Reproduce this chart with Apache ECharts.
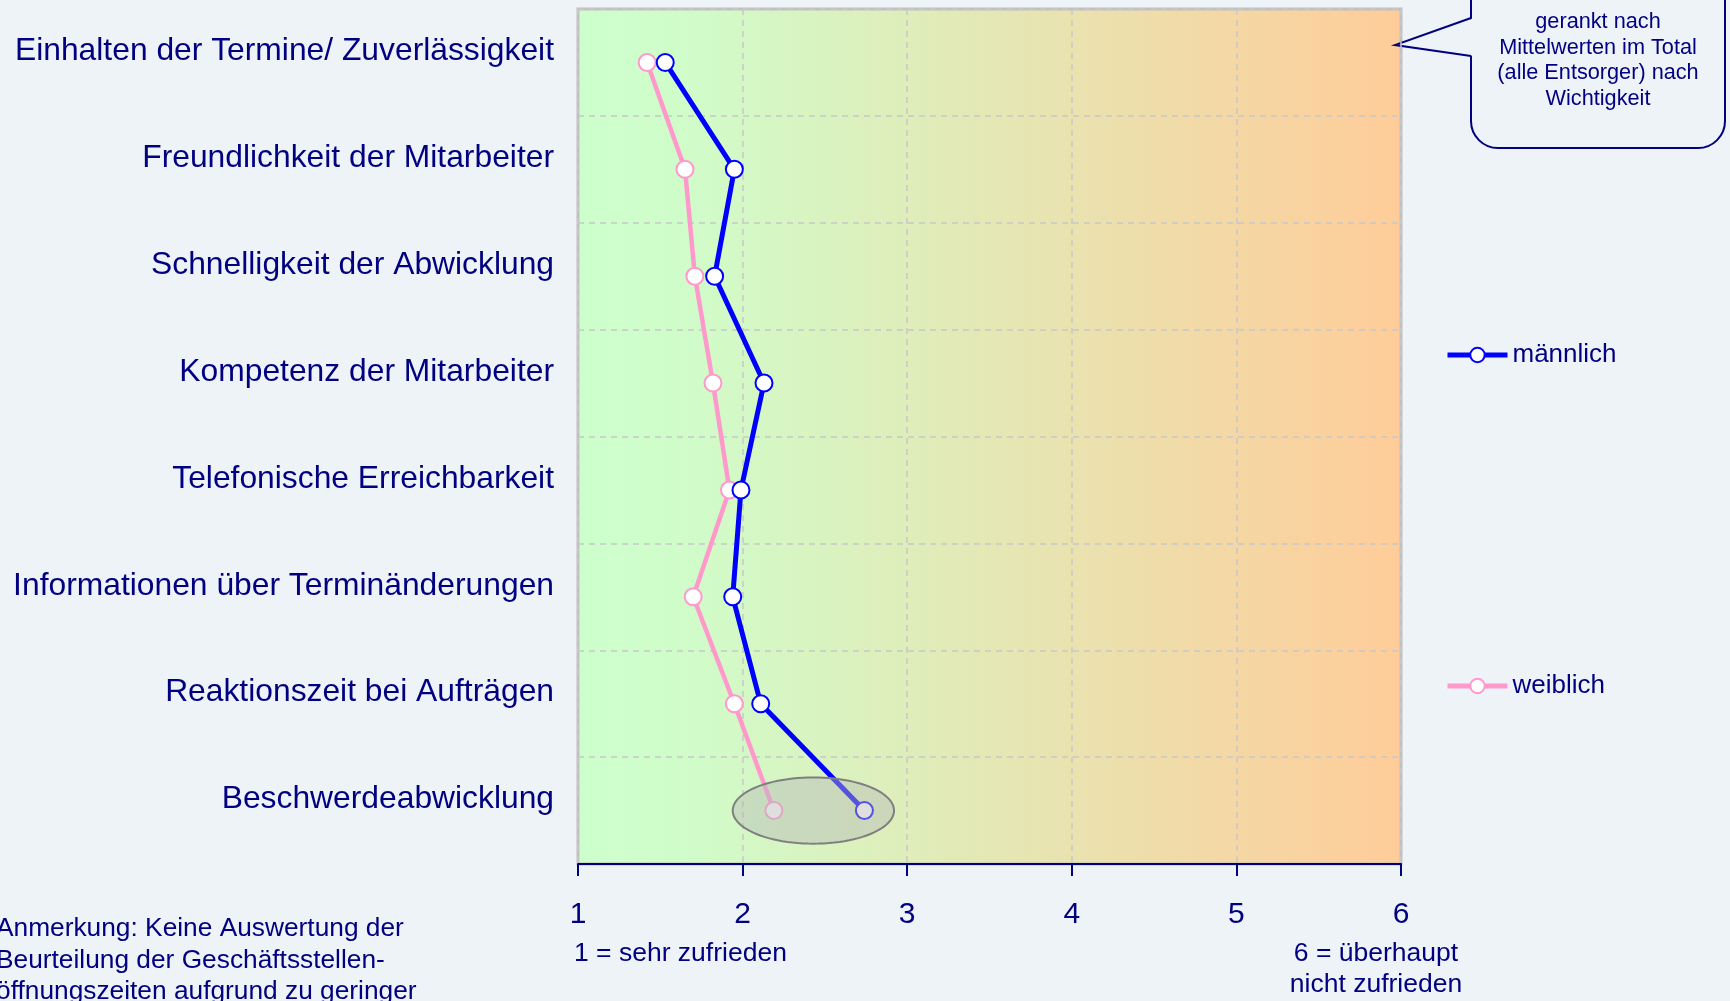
<!DOCTYPE html>
<html>
<head>
<meta charset="utf-8">
<script src="https://cdn.jsdelivr.net/npm/echarts@6/dist/echarts.min.js"></script>
<style>
  html, body { margin: 0; padding: 0; background: #EEF3F8; }
  #chart { width: 1730px; height: 1001px; }
</style>
</head>
<body>
<div id="chart"></div>
<script>
// Kriterien, gerankt nach Wichtigkeit (oben = am wichtigsten)
var categories = [
  "Einhalten der Termine/ Zuverlässigkeit",
  "Freundlichkeit der Mitarbeiter",
  "Schnelligkeit der Abwicklung",
  "Kompetenz der Mitarbeiter",
  "Telefonische Erreichbarkeit",
  "Informationen über Terminänderungen",
  "Reaktionszeit bei Aufträgen",
  "Beschwerdeabwicklung"
];
var maleValues = [1.53, 1.95, 1.83, 2.13, 1.99, 1.94, 2.11, 2.74];
var femaleValues = [1.42, 1.65, 1.71, 1.82, 1.92, 1.70, 1.95, 2.19];
var seriesNames = ["männlich", "weiblich"];
// markierte Stelle (Mittelpunkt der Ellipse) und halbe Breite in Skaleneinheiten
var highlightPoint = [2.43, "Beschwerdeabwicklung"];
var highlightHalfWidth = 0.49;

var navy = "#000080";
var bg = "#EEF3F8";
var font = "Liberation Sans, Arial, sans-serif";

var myChart = echarts.init(document.getElementById("chart"));

function legendAt(name, top) {
  return {
    data: [name],
    left: 1440,
    top: top,
    itemWidth: 60,
    itemHeight: 18,
    lineStyle: { width: 5 },
    itemStyle: { borderWidth: 2 },
    textStyle: { color: navy, fontSize: 26, fontFamily: font }
  };
}

var option = {
  backgroundColor: bg,
  animation: false,
  textStyle: { fontFamily: font },
  grid: {
    left: 578,
    right: 329,
    top: 9,
    bottom: 137,
    show: true,
    borderColor: "#C0C0C0",
    borderWidth: 3,
    backgroundColor: new echarts.graphic.LinearGradient(0, 0, 1, 0, [
      { offset: 0, color: "#CCFFCC" },
      { offset: 0.12, color: "#CFFDCA" },
      { offset: 1, color: "#FFCC99" }
    ])
  },
  legend: [legendAt(seriesNames[0], 337), legendAt(seriesNames[1], 668)],
  xAxis: {
    type: "value",
    min: 1,
    max: 6,
    interval: 1,
    axisLine: { show: true, lineStyle: { color: navy, width: 2 } },
    axisTick: { show: true, length: 12, lineStyle: { color: navy, width: 2 } },
    axisLabel: { color: navy, fontSize: 30, margin: 36, fontFamily: font },
    splitLine: { show: true, lineStyle: { color: "#C8C8C8", type: [6, 5], width: 1.5 } }
  },
  yAxis: {
    type: "category",
    data: categories,
    inverse: true,
    axisLine: { show: false },
    axisTick: { show: false },
    axisLabel: {
      color: navy,
      fontSize: 31.8,
      margin: 24,
      verticalAlign: "bottom",
      lineHeight: 22,
      fontFamily: font
    },
    splitLine: { show: true, interval: 0, lineStyle: { color: "#C8C8C8", type: [6, 5], width: 1.5 } }
  },
  series: [
    {
      name: seriesNames[0],
      type: "line",
      data: maleValues.map(function (v, i) { return [v, categories[i]]; }),
      symbol: "circle",
      symbolSize: 17,
      lineStyle: { color: "#0000FF", width: 5 },
      itemStyle: { color: "#FFFFFF", borderColor: "#0000FF", borderWidth: 2 },
      z: 3
    },
    {
      name: seriesNames[1],
      type: "line",
      data: femaleValues.map(function (v, i) { return [v, categories[i]]; }),
      symbol: "circle",
      symbolSize: 17,
      lineStyle: { color: "#FF99CC", width: 4.5 },
      itemStyle: { color: "#FFFFFF", borderColor: "#FF99CC", borderWidth: 2 },
      z: 2
    },
    {
      type: "custom",
      silent: true,
      z: 5,
      data: [highlightPoint],
      renderItem: function (params, api) {
        var c = api.coord([api.value(0), api.value(1)]);
        var rx = api.size([highlightHalfWidth, 0])[0];
        var ry = api.size([0, 1])[1] * 0.31;
        var pts = [];
        for (var k = 0; k < 96; k++) {
          var a = (k / 96) * Math.PI * 2;
          pts.push([c[0] + rx * Math.cos(a), c[1] + ry * Math.sin(a)]);
        }
        return {
          type: "polygon",
          shape: { points: pts },
          style: { fill: "rgba(185,185,185,0.45)", stroke: "#7F7F7F", lineWidth: 2 }
        };
      }
    }
  ],
  graphic: [
    {
      type: "rect",
      shape: { x: 1471, y: -40, width: 254, height: 188, r: 27 },
      style: { fill: bg, stroke: navy, lineWidth: 2 }
    },
    {
      type: "polygon",
      shape: { points: [[1474, 18], [1395, 45], [1474, 56]] },
      style: { fill: bg }
    },
    {
      type: "polyline",
      shape: { points: [[1471, 18], [1395, 45], [1471, 56]] },
      style: { fill: null, stroke: navy, lineWidth: 2 }
    },
    {
      type: "text",
      x: 1598,
      y: 9,
      style: {
        text: "gerankt nach\nMittelwerten im Total\n(alle Entsorger) nach\nWichtigkeit",
        fill: navy,
        font: "21.7px " + font,
        lineHeight: 25.7,
        align: "center",
        verticalAlign: "top"
      }
    },
    {
      type: "text",
      x: 574,
      y: 954,
      style: {
        text: "1 = sehr zufrieden",
        fill: navy,
        font: "26.5px " + font,
        align: "left",
        verticalAlign: "middle"
      }
    },
    {
      type: "text",
      x: 1376,
      y: 938,
      style: {
        text: "6 = überhaupt\nnicht zufrieden",
        fill: navy,
        font: "26.5px " + font,
        lineHeight: 31,
        align: "center",
        verticalAlign: "top"
      }
    },
    {
      type: "text",
      x: -4,
      y: 913,
      style: {
        text: "Anmerkung: Keine Auswertung der\nBeurteilung der Geschäftsstellen-\nöffnungszeiten aufgrund zu geringer",
        fill: navy,
        font: "26.3px " + font,
        lineHeight: 31.5,
        align: "left",
        verticalAlign: "top"
      }
    }
  ]
};

myChart.setOption(option);
</script>
</body>
</html>
